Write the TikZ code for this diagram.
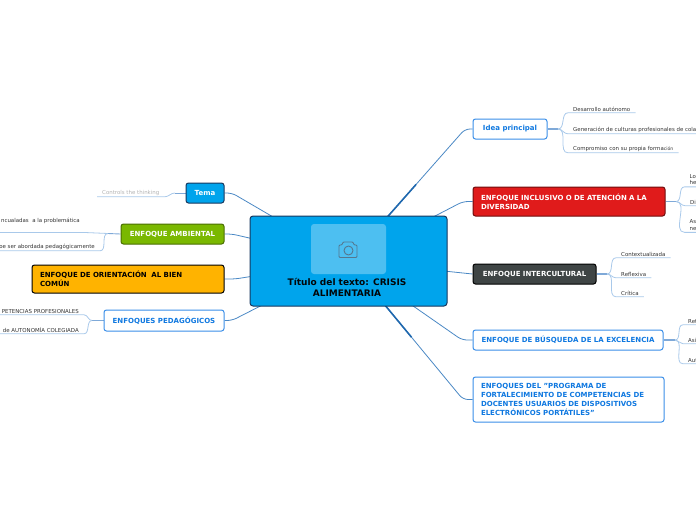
\documentclass[tikz,border=0pt]{standalone}
\usepackage{fontspec}
\setmainfont{DejaVu Sans}
\usetikzlibrary{positioning, backgrounds, calc}

\definecolor{skyfill}{HTML}{00A4EC}
\definecolor{navyline}{HTML}{17375E}
\definecolor{grassfill}{HTML}{7AB800}
\definecolor{amberfill}{HTML}{FFB300}
\definecolor{redfill}{HTML}{E01B1B}
\definecolor{slatefill}{HTML}{3F4545}
\definecolor{topicblue}{HTML}{0F78E0}
\definecolor{topicline}{HTML}{3A8EE8}
\definecolor{deepline}{HTML}{1F68AE}
\definecolor{midline}{HTML}{4A88C4}
\definecolor{paleline}{HTML}{7FA9D8}
\definecolor{twigline}{HTML}{A9C9EA}
\definecolor{iconline}{HTML}{55778F}

\tikzset{
  topic/.style={draw, rounded corners=2.5, line width=1, inner xsep=8, inner ysep=0, align=left, font=\fontsize{7}{8.8}\selectfont\bfseries},
  whitetopic/.style={topic, draw=topicline, fill=white, text=topicblue},
  leaf/.style={inner xsep=5, inner ysep=1.5, text=black!80, font=\fontsize{5.45}{6.4}\selectfont, anchor=base west},
  leafeast/.style={leaf, anchor=base east},
  branch/.style={draw=midline, line width=0.8, rounded corners=5},
  bigbranch/.style={draw=deepline, line width=1.6},
  stub/.style={draw=paleline, line width=1.6},
  thinstub/.style={draw=paleline, line width=0.9},
  twig/.style={draw=twigline, line width=0.8}
}

\begin{document}
\begin{tikzpicture}[x=1pt, y=-1pt]
        \useasboundingbox (0, 0) rectangle (696, 520);

        % centre
        \node[draw=navyline, fill=skyfill, rounded corners=3, line width=1, minimum width=197, minimum height=90] (centro) at (348.5, 261) {};
        \node[fill=white, fill opacity=0.3, rounded corners=3, minimum width=75, minimum height=50] (photo) at (348.5, 249) {};
        \node[align=center, font=\fontsize{9}{11}\selectfont\bfseries, text=black!90!navyline] (title) at (347, 287.5) {Título del texto: CRISIS\\ALIMENTARIA};
        \draw[iconline, line width=0.9, rounded corners=1] (339, 257.5) -- (339, 245) -- (342, 245) -- (343, 242) -- (353, 242) -- (354, 245) -- (357, 245) -- (357, 257.5) -- cycle;
        \draw[iconline, line width=0.9] (348.5, 250.5) circle (4.5);

        % left side
        \node[topic, fill=skyfill, draw=navyline, text=white, minimum width=38, minimum height=20] (tema) at (205, 193) {Tema};
        \node[topic, fill=grassfill, draw=grassfill!60!black, text=white, minimum width=103, minimum height=20] (ambiental) at (172.5, 234) {ENFOQUE AMBIENTAL};
        \node[topic, fill=amberfill, draw=black, text=black, text width=176, minimum height=28] (orientacion) at (128, 279) {ENFOQUE DE ORIENTACIÓN\ \ AL BIEN\\COMÚN};
        \node[whitetopic, minimum width=120, minimum height=21] (pedagogicos) at (164, 320.5) {ENFOQUES PEDAGÓGICOS};

        \node[leaf, text=black!30] (thinking) at (97, 194) {Controls the thinking};
        \node[leafeast] (problematica) at (85, 222) {ncualadas\ \ a la problemática};
        \node[leafeast] (abordada) at (100, 248) {oe ser abordada pedagógicamente};
        \node[leafeast] (profesionales) at (84, 313) {PETENCIAS PROFESIONALES};
        \node[leafeast] (colegiada) at (84, 332) {de AUTONOMÍA COLEGIADA};

        % right side
        \node[whitetopic, minimum width=74, minimum height=20] (idea) at (510, 129) {Idea principal};
        \node[topic, fill=redfill, draw=redfill!50!black, text=white, text width=176, minimum height=29] (inclusivo) at (569, 201.5) {ENFOQUE INCLUSIVO O DE ATENCIÓN A LA\\DIVERSIDAD};
        \node[topic, fill=slatefill, draw=black, text=white, minimum width=123, minimum height=20] (intercultural) at (534.5, 274) {ENFOQUE INTERCULTURAL};
        \node[whitetopic, minimum width=190, minimum height=20] (busqueda) at (568, 340) {ENFOQUE DE BÚSQUEDA DE LA EXCELENCIA};
        \node[whitetopic, text width=175, minimum height=45] (programa) at (568.5, 399.5) {ENFOQUES DEL "PROGRAMA DE\\FORTALECIMIENTO DE COMPETENCIAS DE\\DOCENTES USUARIOS DE DISPOSITIVOS\\ELECTRÓNICOS PORTÁTILES"};

        \node[leaf] (autonomo) at (568, 111) {Desarrollo autónomo};
        \node[leaf] (culturas) at (568, 131) {Generación de culturas profesionales de cola};
        \node[leaf] (formacion) at (568, 150) {Compromiso con su propia forma\raisebox{-0.6pt}{\fontsize{4.6}{5}\selectfont ción}};
        \node[leaf, inner ysep=0] (lohe) at (684.5, 181.5) {\begin{tabular}{@{}l@{}}Lo\\he\end{tabular}};
        \node[leaf] (di) at (685, 204) {Di};
        \node[leaf, inner ysep=0] (asne) at (684.5, 227) {\begin{tabular}{@{}l@{}}As\\ne\end{tabular}};
        \node[leaf] (contextualizada) at (616, 256) {Contextualizada};
        \node[leaf] (reflexiva) at (616, 276) {Reflexiva};
        \node[leaf] (critica) at (616, 295) {Crítica};
        \node[leaf] (ret) at (683, 323) {Ret};
        \node[leaf] (asi) at (683, 342) {Asi};
        \node[leaf] (aut) at (683, 362) {Aut};

        % free ends and forks
        \coordinate (ambjoint) at (85, 232.5);
        \coordinate (leftamb1) at (0, 232.5);
        \coordinate (leftamb2) at (0, 252);
        \coordinate (leftped1) at (0, 316);
        \coordinate (leftped2) at (0, 336);
        \coordinate (edgecult) at (696, 135);
        \coordinate (edgelo) at (696, 188);
        \coordinate (edgedi) at (696, 208);
        \coordinate (edgeas) at (696, 233);
        \coordinate (edgeret) at (696, 326);
        \coordinate (edgeasi) at (696, 345);
        \coordinate (edgeaut) at (696, 365);
        \coordinate (forktema) at (175, 193);
        \coordinate (forkamb) at (108, 233.5);
        \coordinate (forkped) at (92, 320.5);
        \coordinate (forkidea) at (558, 129);
        \coordinate (forkincl) at (676, 201.5);
        \coordinate (forkcult) at (607, 274);
        \coordinate (forkbusq) at (675, 340);
        \coordinate (bendtop) at (465, 129);
        \coordinate (bendbottom) at (463, 399.5);
        \coordinate (midtop) at ($(centro.center)!0.58!(bendtop)$);
        \coordinate (midbottom) at ($(centro.center)!0.55!(bendbottom)$);

        \begin{scope}[on background layer]
            \draw[branch] (centro.center) -- (232, 193) -- (tema.east);
            \draw[branch] (centro.center) -- (232, 234) -- (ambiental.east);
            \draw[branch] (centro.center) -- (235, 279) -- (orientacion.east);
            \draw[branch] (centro.center) -- (232, 320.5) -- (pedagogicos.east);
            \draw[branch] (centro.center) -- (bendtop) -- (idea.west);
            \draw[bigbranch] (centro.center) -- (midtop);
            \draw[branch] (centro.center) -- (463, 201.5) -- (inclusivo.west);
            \draw[branch] (centro.center) -- (intercultural.west);
            \draw[branch] (centro.center) -- (462, 340) -- (busqueda.west);
            \draw[branch] (centro.center) -- (bendbottom) -- (programa.west);
            \draw[bigbranch] (centro.center) -- (midbottom);

            \draw[thinstub] (tema.west) -- (forktema);
            \draw[thinstub] (ambiental.west) -- (forkamb);
            \draw[stub] (pedagogicos.west) -- (forkped);
            \draw[stub] (idea.east) -- (forkidea);
            \draw[stub] (inclusivo.east) -- (forkincl);
            \draw[stub] (intercultural.east) -- (forkcult);
            \draw[stub] (busqueda.east) -- (forkbusq);

            \draw[twig] (forktema) to[out=180, in=0] (thinking.south east) -- (thinking.south west);
            \draw[twig] (forkamb) -- (ambjoint) -- (leftamb1);
            \draw[twig] (forkamb) to[out=180, in=0] (abordada.south east) -- (abordada.south east -| leftamb2);
            \draw[twig] (forkped) to[out=180, in=0] (profesionales.south east) -- (profesionales.south east -| leftped1);
            \draw[twig] (forkped) to[out=180, in=0] (colegiada.south east) -- (colegiada.south east -| leftped2);
            \draw[twig] (forkidea) to[out=0, in=180] (autonomo.south west) -- (autonomo.south east);
            \draw[twig] (forkidea) to[out=0, in=180] (culturas.south west) -- (culturas.south west -| edgecult);
            \draw[twig] (forkidea) to[out=0, in=180] (formacion.south west) -- (formacion.south east);
            \draw[twig] (forkincl) to[out=0, in=180] (lohe.south west) -- (lohe.south west -| edgelo);
            \draw[twig] (forkincl) to[out=0, in=180] (di.south west) -- (di.south west -| edgedi);
            \draw[twig] (forkincl) to[out=0, in=180] (asne.south west) -- (asne.south west -| edgeas);
            \draw[twig] (forkcult) to[out=0, in=180] (contextualizada.south west) -- (contextualizada.south east);
            \draw[twig] (forkcult) to[out=0, in=180] (reflexiva.south west) -- (reflexiva.south east);
            \draw[twig] (forkcult) to[out=0, in=180] (critica.south west) -- (critica.south east);
            \draw[twig] (forkbusq) to[out=0, in=180] (ret.south west) -- (ret.south west -| edgeret);
            \draw[twig] (forkbusq) to[out=0, in=180] (asi.south west) -- (asi.south west -| edgeasi);
            \draw[twig] (forkbusq) to[out=0, in=180] (aut.south west) -- (aut.south west -| edgeaut);
        \end{scope}
    \end{tikzpicture}
\end{document}
